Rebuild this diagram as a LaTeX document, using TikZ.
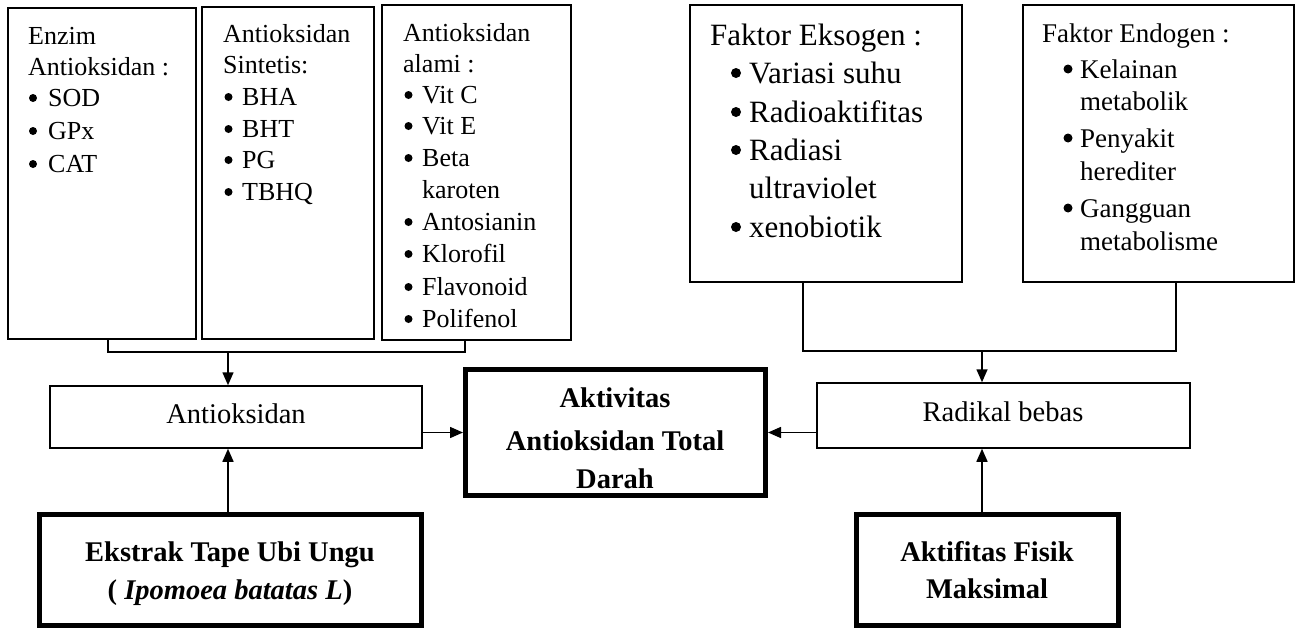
\documentclass[tikz,border=0pt]{standalone}
\usepackage{fontspec}
\setmainfont{Liberation Serif}
\usetikzlibrary{arrows.meta,calc}
\begin{document}
\begin{tikzpicture}[x=1pt,y=-1pt,
  box/.style={draw, line width=1.5pt, inner sep=0pt, rectangle},
  boldbox/.style={draw, line width=5pt, inner sep=0pt, rectangle},
  conn/.style={line width=1.5pt},
  arr/.style={conn, -{Triangle[length=13pt,width=11pt]}},
  tA/.style={anchor=base west, inner sep=0pt, font=\fontsize{26}{30}\selectfont},
  tE/.style={anchor=base west, inner sep=0pt, font=\fontsize{31}{36}\selectfont},
  tN/.style={anchor=base west, inner sep=0pt, font=\fontsize{27}{32}\selectfont},
  tM/.style={anchor=base, inner sep=0pt, font=\fontsize{28.5}{34}\selectfont},
  tB/.style={anchor=base, inner sep=0pt, font=\bfseries\fontsize{28.5}{34}\selectfont}
]
\useasboundingbox (0,0) rectangle (1301,632);

% ---- boxes ----
\node[box, minimum width=188pt, minimum height=331pt] (b1) at (102,173.5) {};
\node[box, minimum width=172pt, minimum height=332pt] (b2) at (288,173) {};
\node[box, minimum width=189pt, minimum height=335pt] (b3) at (476.5,172.5) {};
\node[box, minimum width=272pt, minimum height=277pt] (eks) at (826,143.5) {};
\node[box, minimum width=271pt, minimum height=277pt] (endo) at (1158.5,143.5) {};
\node[box, minimum width=372pt, minimum height=62pt] (ant) at (236,417) {};
\node[box, minimum width=373pt, minimum height=65pt] (rad) at (1003.5,415.5) {};
\node[boldbox, minimum width=300pt, minimum height=126pt] (cen) at (615.5,432.5) {};
\node[boldbox, minimum width=382pt, minimum height=111pt] (ekst) at (230.5,570) {};
\node[boldbox, minimum width=262pt, minimum height=111pt] (fis) at (987.5,570) {};

% ---- box 1 ----
\node[tA] (b1t1) at (28,44) {Enzim};
\node[tA] (b1t2) at (28,75) {Antioksidan :};
\node[tA] (b1t3) at (48,106) {SOD};
\node[tA] (b1t4) at (48,139) {GPx};
\node[tA] (b1t5) at (48,172) {CAT};
\foreach \yy in {106,139,172} \fill (33,\yy-8) circle (4pt);

% ---- box 2 ----
\node[tA] (b2t1) at (223,42) {Antioksidan};
\node[tA] (b2t2) at (223,73) {Sintetis:};
\node[tA] (b2t3) at (242,105) {BHA};
\node[tA] (b2t4) at (242,137) {BHT};
\node[tA] (b2t5) at (242,168) {PG};
\node[tA] (b2t6) at (242,200) {TBHQ};
\foreach \yy in {105,137,168,200} \fill (228.5,\yy-8) circle (4pt);

% ---- box 3 ----
\node[tA] (b3t1) at (403,41) {Antioksidan};
\node[tA] (b3t2) at (403,72) {alami :};
\node[tA] (b3t3) at (422,103) {Vit C};
\node[tA] (b3t4) at (422,134) {Vit E};
\node[tA] (b3t5) at (422,166) {Beta};
\node[tA] (b3t6) at (422,198) {karoten};
\node[tA] (b3t7) at (422,230) {Antosianin};
\node[tA] (b3t8) at (422,262) {Klorofil};
\node[tA] (b3t9) at (422,295) {Flavonoid};
\node[tA] (b3t10) at (422,327) {Polifenol};
\foreach \yy in {103,134,166,230,262,295,327} \fill (408.5,\yy-8) circle (4pt);

% ---- eksogen ----
\node[tE] (ekt1) at (710,45) {Faktor Eksogen :};
\node[tE] (ekt2) at (749,83) {Variasi suhu};
\node[tE] (ekt3) at (749,122) {Radioaktifitas};
\node[tE] (ekt4) at (749,160) {Radiasi};
\node[tE] (ekt5) at (749,198) {ultraviolet};
\node[tE] (ekt6) at (749,237) {xenobiotik};
\foreach \yy in {83,122,160,237} \fill (736,\yy-10) circle (5pt);

% ---- endogen ----
\node[tN] (ent1) at (1042,42) {Faktor Endogen :};
\node[tN] (ent2) at (1080,78) {Kelainan};
\node[tN] (ent3) at (1080,110) {metabolik};
\node[tN] (ent4) at (1080,147) {Penyakit};
\node[tN] (ent5) at (1080,180) {herediter};
\node[tN] (ent6) at (1080,217) {Gangguan};
\node[tN] (ent7) at (1080,250) {metabolisme};
\foreach \yy in {78,147,217} \fill (1068,\yy-9) circle (4.5pt);

% ---- middle / bottom texts ----
\node[tM] (antt) at (236,423) {Antioksidan};
\node[tM] (radt) at (1003,421) {Radikal bebas};
\node[tB] (cent1) at (615,407) {Aktivitas};
\node[tB] (cent2) at (615,450) {Antioksidan Total};
\node[tB] (cent3) at (615,488) {Darah};
\node[tB] (ekt7) at (230,561) {Ekstrak Tape Ubi Ungu};
\node[tB] (ekt8) at (230,599) {( \textit{Ipomoea batatas L})};
\node[tB] (fist1) at (987,561) {Aktifitas Fisik};
\node[tB] (fist2) at (987,598) {Maksimal};

% ---- connectors ----
\coordinate (jl) at (228,352);
\draw[conn] ([xshift=6pt]b1.south) |- (jl) -| ([xshift=-11.5pt]b3.south);
\draw[arr] (jl) -- (jl |- ant.north);

\coordinate (jr) at (982,351);
\draw[conn] ([xshift=-23pt]eks.south) |- (jr) -| ([xshift=17.5pt]endo.south);
\draw[arr] (jr) -- (jr |- rad.north);

\draw[arr] (cen.west -| ant.east) -- (cen.west);
\draw[arr] (cen.east -| rad.west) -- (cen.east);
\draw[arr] ([xshift=-2.5pt]ekst.north) -- ([xshift=-2.5pt]ekst.north |- ant.south);
\draw[arr] ([xshift=-5.5pt]fis.north) -- ([xshift=-5.5pt]fis.north |- rad.south);
\end{tikzpicture}
\end{document}
